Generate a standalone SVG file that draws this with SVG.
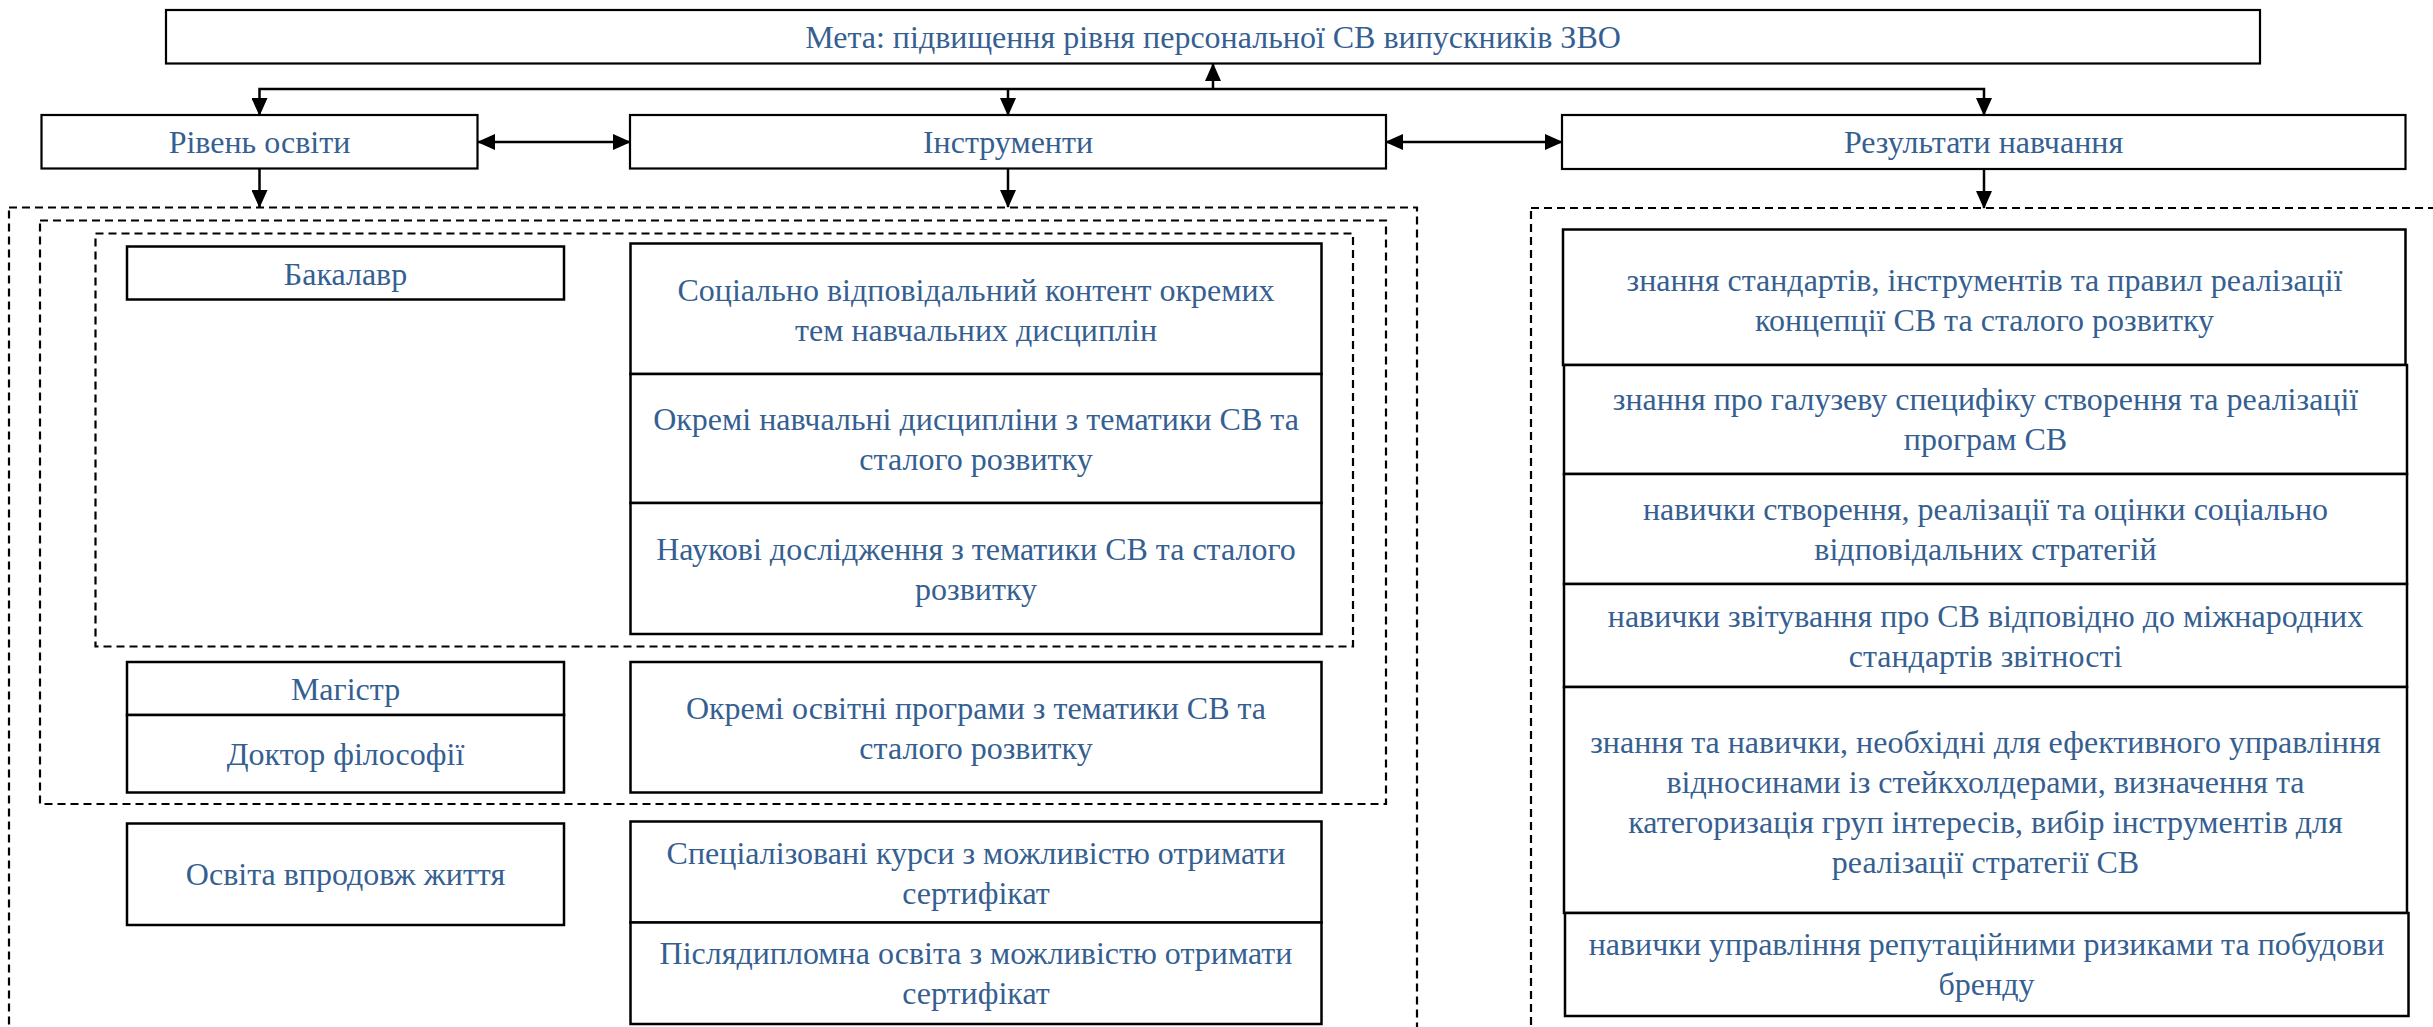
<svg xmlns="http://www.w3.org/2000/svg" width="2433" height="1027" viewBox="0 0 2433 1027">
<style>
.box{fill:#fff;stroke:#000;stroke-width:2.5}
.tbox{fill:#fff;stroke:#000;stroke-width:2.2}
.dash{fill:none;stroke:#000;stroke-width:2.2;stroke-dasharray:8 5}
.t{font-family:"Liberation Serif","Times New Roman",serif;font-size:32px;fill:#365F91;text-anchor:middle}
.c{fill:none;stroke:#000;stroke-width:2.5}
</style>
<defs>
<marker id="ah" markerUnits="userSpaceOnUse" markerWidth="18" markerHeight="16" refX="17" refY="8" orient="auto-start-reverse" viewBox="0 0 18 16">
<path d="M0,0 L18,8 L0,16 Z" fill="#000"/>
</marker>
</defs>
<rect width="2433" height="1027" fill="#fff"/>

<g id="dashed-frames">
<rect class="dash" x="9" y="207.5" width="1408" height="840"/>
<rect class="dash" x="40" y="220.5" width="1346" height="583.5"/>
<rect class="dash" x="95.5" y="233.5" width="1257.5" height="413"/>
<rect class="dash" x="1531" y="208" width="940" height="840"/>
</g>

<g id="connectors">
<path class="c" d="M259.5,115 L259.5,89 L1984,89 L1984,115" marker-start="url(#ah)" marker-end="url(#ah)"/>
<path class="c" d="M1008,89 L1008,115" marker-end="url(#ah)"/>
<path class="c" d="M1213,89 L1213,64" marker-end="url(#ah)"/>
<path class="c" d="M478,142 L630,142" marker-start="url(#ah)" marker-end="url(#ah)"/>
<path class="c" d="M1386,142 L1562,142" marker-start="url(#ah)" marker-end="url(#ah)"/>
<path class="c" d="M259.5,168 L259.5,207" marker-end="url(#ah)"/>
<path class="c" d="M1008,168 L1008,207" marker-end="url(#ah)"/>
<path class="c" d="M1984,169 L1984,208" marker-end="url(#ah)"/>
</g>

<g id="goal">
<rect class="tbox" x="166" y="10" width="2094" height="53.5"/>
<text class="t" x="1213" y="47.5">Мета: підвищення рівня персональної СВ випускників ЗВО</text>
</g>
<g id="level">
<rect class="tbox" x="41.5" y="115" width="436" height="53.5"/>
<text class="t" x="259.5" y="153">Рівень освіти</text>
</g>
<g id="instruments">
<rect class="tbox" x="630" y="115" width="756" height="53.5"/>
<text class="t" x="1008" y="153">Інструменти</text>
</g>
<g id="results">
<rect class="tbox" x="1562" y="115" width="843.5" height="54"/>
<text class="t" x="1983.5" y="153">Результати навчання</text>
</g>

<g id="bachelor">
<rect class="box" x="127" y="246.5" width="437" height="53"/>
<text class="t" x="345.5" y="284.5">Бакалавр</text>
</g>
<g id="instr-content">
<rect class="box" x="630.5" y="243.5" width="691" height="130.5"/>
<text class="t" x="976" y="300.5">Соціально відповідальний контент окремих</text>
<text class="t" x="976" y="340.5">тем навчальних дисциплін</text>
</g>
<g id="instr-disciplines">
<rect class="box" x="630.5" y="374" width="691" height="129"/>
<text class="t" x="976" y="430">Окремі навчальні дисципліни з тематики СВ та</text>
<text class="t" x="976" y="470">сталого розвитку</text>
</g>
<g id="instr-research">
<rect class="box" x="630.5" y="503" width="691" height="131"/>
<text class="t" x="976" y="560">Наукові дослідження з тематики СВ та сталого</text>
<text class="t" x="976" y="600">розвитку</text>
</g>
<g id="master">
<rect class="box" x="127" y="662" width="437" height="53"/>
<text class="t" x="345.5" y="699.5">Магістр</text>
</g>
<g id="phd">
<rect class="box" x="127" y="715" width="437" height="77.5"/>
<text class="t" x="345.5" y="765">Доктор філософії</text>
</g>
<g id="instr-programs">
<rect class="box" x="630.5" y="662" width="691" height="130.5"/>
<text class="t" x="976" y="718.5">Окремі освітні програми з тематики СВ та</text>
<text class="t" x="976" y="758.5">сталого розвитку</text>
</g>
<g id="lifelong">
<rect class="box" x="127" y="823.5" width="437" height="101.5"/>
<text class="t" x="345.5" y="885">Освіта впродовж життя</text>
</g>
<g id="instr-courses">
<rect class="box" x="630.5" y="821.5" width="691" height="101"/>
<text class="t" x="976" y="863.5">Спеціалізовані курси з можливістю отримати</text>
<text class="t" x="976" y="903.5">сертифікат</text>
</g>
<g id="instr-postgrad">
<rect class="box" x="630.5" y="922.5" width="691" height="101.5"/>
<text class="t" x="976" y="963.5">Післядипломна освіта з можливістю отримати</text>
<text class="t" x="976" y="1003.5">сертифікат</text>
</g>

<g id="res-1">
<rect class="box" x="1563" y="229.5" width="842.5" height="135.5"/>
<text class="t" x="1984.5" y="291">знання стандартів, інструментів та правил реалізації</text>
<text class="t" x="1984.5" y="331">концепції СВ та сталого розвитку</text>
</g>
<g id="res-2">
<rect class="box" x="1564" y="365" width="843" height="109"/>
<text class="t" x="1985.5" y="410">знання про галузеву специфіку створення та реалізації</text>
<text class="t" x="1985.5" y="450">програм СВ</text>
</g>
<g id="res-3">
<rect class="box" x="1564" y="474" width="843" height="110"/>
<text class="t" x="1985.5" y="520">навички створення, реалізації та оцінки соціально</text>
<text class="t" x="1985.5" y="560">відповідальних стратегій</text>
</g>
<g id="res-4">
<rect class="box" x="1564" y="584" width="843" height="103"/>
<text class="t" x="1985.5" y="627">навички звітування про СВ відповідно до міжнародних</text>
<text class="t" x="1985.5" y="667">стандартів звітності</text>
</g>
<g id="res-5">
<rect class="box" x="1564" y="687" width="843" height="226"/>
<text class="t" x="1985.5" y="753">знання та навички, необхідні для ефективного управління</text>
<text class="t" x="1985.5" y="793">відносинами із стейкхолдерами, визначення та</text>
<text class="t" x="1985.5" y="833">категоризація груп інтересів, вибір інструментів для</text>
<text class="t" x="1985.5" y="873">реалізації стратегії СВ</text>
</g>
<g id="res-6">
<rect class="box" x="1565" y="913" width="843.5" height="103"/>
<text class="t" x="1986.5" y="955">навички управління репутаційними ризиками та побудови</text>
<text class="t" x="1986.5" y="995">бренду</text>
</g>
</svg>
